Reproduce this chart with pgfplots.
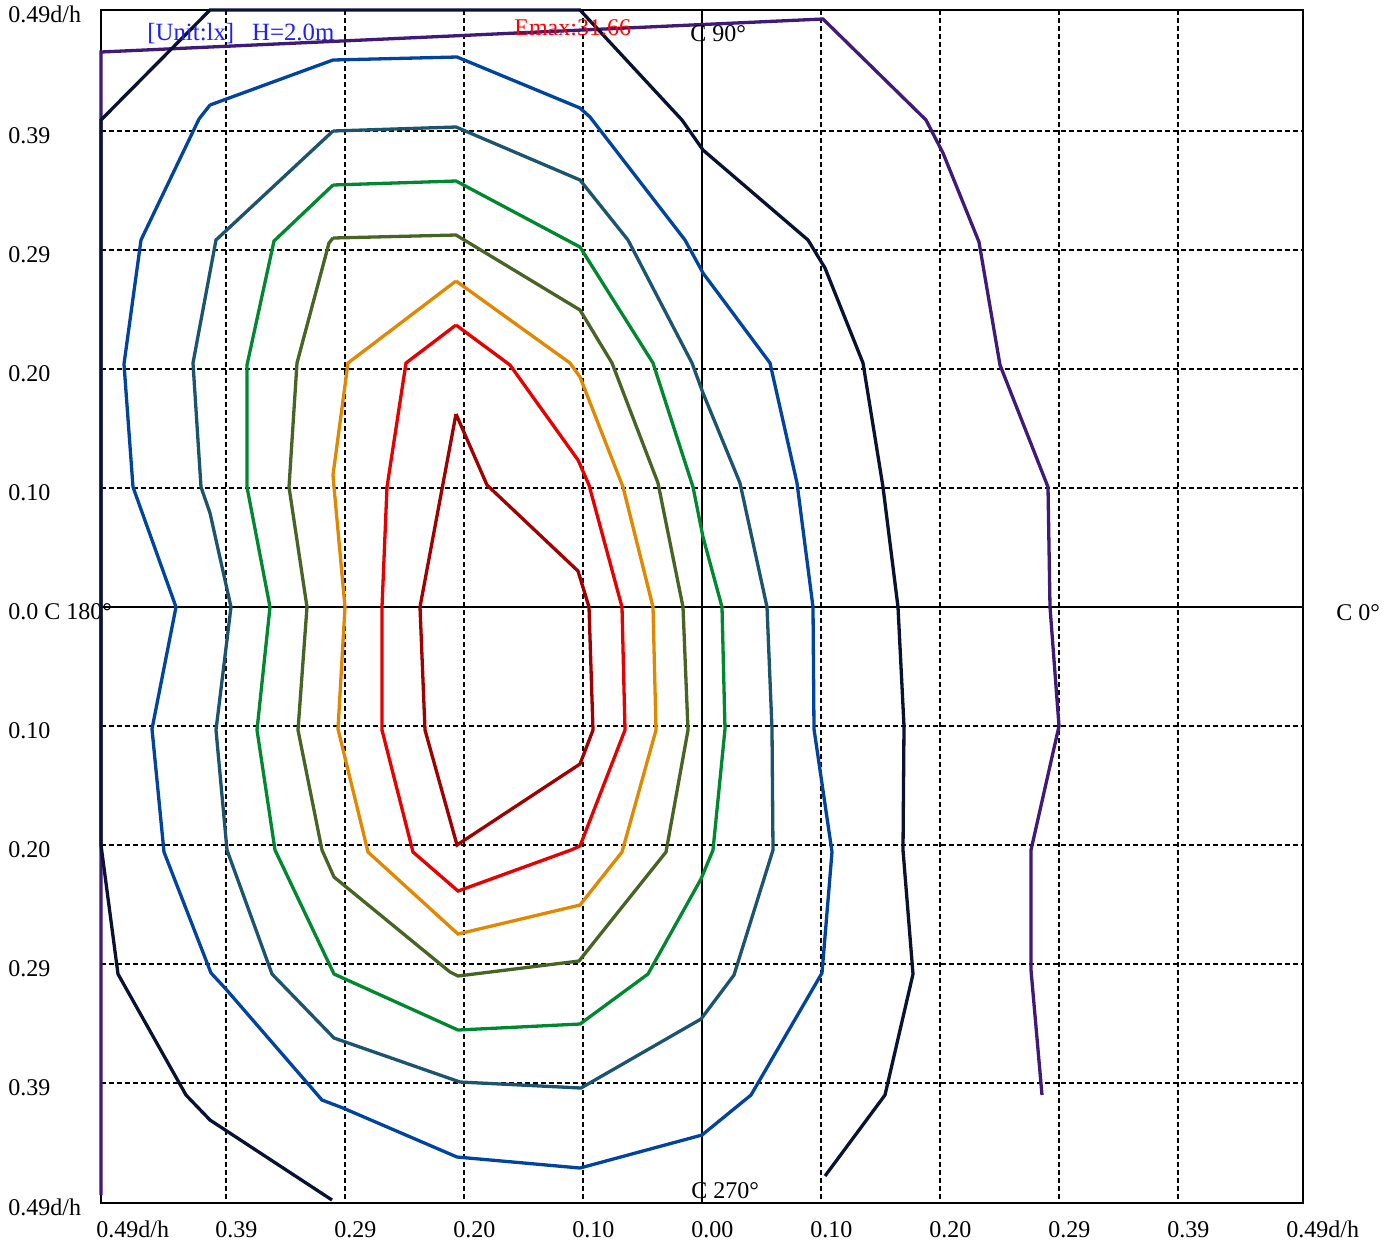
\documentclass[border=0pt]{standalone}
\usepackage{pgfplots}
\pgfplotsset{compat=1.18}
\usepackage{fontspec}
\setmainfont{Liberation Serif}
\definecolor{purpleC}{RGB}{64,26,120}
\definecolor{navyC}{RGB}{10,18,50}
\definecolor{blueC}{RGB}{0,68,160}
\definecolor{tealC}{RGB}{28,84,110}
\definecolor{greenC}{RGB}{0,136,48}
\definecolor{oliveC}{RGB}{72,100,36}
\definecolor{orangeC}{RGB}{226,136,0}
\definecolor{redC}{RGB}{230,0,0}
\definecolor{darkredC}{RGB}{160,0,0}
\definecolor{unitC}{RGB}{30,30,255}
\begin{document}
\begin{tikzpicture}
\useasboundingbox (-50.5pt,-20.5pt) rectangle (648pt,601.5pt);
\begin{axis}[
  at={(0,0)}, anchor=south west,
  scale only axis, width=601pt, height=596.5pt,
  xmin=101, xmax=1303, ymin=10, ymax=1203, y dir=reverse,
  axis line style={line width=1pt},
  xtick={101,226,345,464,583,702,821,940,1059,1178,1303},
  xticklabels={\hspace{3pt}0.49d/h,0.39,0.29,0.20,0.10,0.00,0.10,0.20,0.29,0.39,\hspace{-3pt}0.49d/h},
  ytick={10,131,250,369,488,607,726,845,964,1083,1203},
  yticklabels={0.49d/h,0.39,0.29,0.20,0.10,0.0 C 180°,0.10,0.20,0.29,0.39,0.49d/h},
  major tick length=0pt,
  grid=major,
  major grid style={black, line width=0.6pt, dash pattern=on 2.5pt off 1.5pt},
  xticklabel style={anchor=base west, inner sep=0pt, xshift=-5.5pt, yshift=-17pt},
  yticklabel style={anchor=base west, inner sep=0pt, xshift=-46.5pt, yshift=-6pt},
  tick label style={font=\fontsize{12}{14}\selectfont},
  clip=false,
  every axis plot/.append style={line width=1.65pt, line join=miter, mark=none},
]
% center cross
\addplot[black, line width=0.9pt] coordinates {(702,10) (702,1203)};
\addplot[black, line width=0.9pt] coordinates {(101,607) (1303,607)};
% contours
\addplot[purpleC] coordinates {(101,1195) (101,52) (823,19) (926,120) (943,153) (979,242) (1000,365) (1048,487) (1050,607) (1059,726) (1031,850) (1031,970) (1042,1095)};
\addplot[navyC] coordinates {(332,1200) (210,1120) (186,1095) (118,974) (101,845) (101,120) (210,10) (580,10) (682,120) (703,150) (808,240) (825,268) (863,363) (883,487) (898,607) (904,726) (903,850) (913,974) (885,1095) (825,1176)};
\addplot[blueC] coordinates {(210,105) (199,119) (141,240) (124,364) (133,487) (176,607) (152,729) (164,852) (211,973) (225,988) (322,1100) (343,1108) (457,1157) (580,1168) (702,1135) (751,1095) (822,973) (832,852) (814,729) (813,607) (797,483) (770,363) (703,273) (685,240) (590,117) (580,108) (457,57) (333,60) (210,105)};
\addplot[tealC] coordinates {(333,131) (456,127) (580,180) (628,240) (692,363) (703,393) (740,483) (767,607) (772,729) (773,850) (734,975) (701,1019) (581,1088) (460,1082) (334,1038) (272,974) (227,850) (216,730) (231,607) (210,513) (201,487) (193,363) (216,240) (333,131)};
\addplot[greenC] coordinates {(333,185) (456,181) (580,247) (653,363) (693,487) (703,537) (722,607) (725,729) (713,850) (701,879) (648,974) (580,1024) (458,1030) (334,974) (275,850) (257,730) (270,607) (247,487) (247,365) (274,241) (333,185)};
\addplot[oliveC] coordinates {(333,238) (456,235) (580,310) (612,363) (658,483) (683,607) (688,730) (666,852) (579,961) (458,976) (450,972) (334,877) (322,850) (298,730) (307,607) (289,487) (297,363) (329,243) (333,238)};
\addplot[orangeC] coordinates {(456,281) (570,363) (580,377) (623,487) (653,607) (656,730) (622,852) (580,905) (458,934) (368,852) (338,729) (345,607) (334,487) (333,475) (348,363) (456,281)};
\addplot[redC] coordinates {(456,325) (510,365) (578,460) (589,485) (622,607) (625,730) (580,846) (571,850) (458,891) (413,852) (382,730) (382,607) (387,487) (406,363) (456,325)};
\addplot[darkredC] coordinates {(456,414) (487,485) (578,571) (589,607) (593,730) (580,764) (457,845) (425,730) (420,607) (456,414)};
% annotations
\node[anchor=base west, inner sep=0pt, text=unitC, font=\fontsize{12.4}{14}\selectfont] at (axis cs:147,40) {{[}Unit:lx]\hspace{9pt}H=2.0m};
\node[anchor=base west, inner sep=0pt, text=red, font=\fontsize{12}{14}\selectfont] at (axis cs:514,35) {Emax:31.66};
\node[anchor=base west, inner sep=0pt, font=\fontsize{12}{14}\selectfont] at (axis cs:690,41) {C 90°};
\node[anchor=base west, inner sep=0pt, font=\fontsize{12}{14}\selectfont] at (axis cs:1336,620) {C 0°};
\node[anchor=base west, inner sep=0pt, font=\fontsize{12}{14}\selectfont] at (axis cs:691,1198) {C 270°};
\end{axis}
\end{tikzpicture}
\end{document}
